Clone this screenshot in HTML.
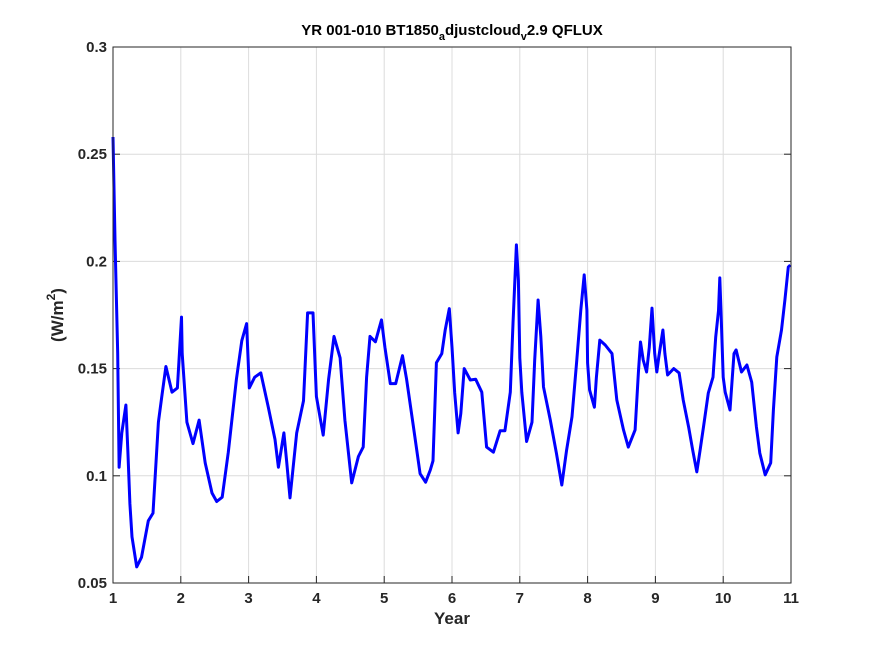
<!DOCTYPE html>
<html><head><meta charset="utf-8"><style>
body{margin:0;background:#fff;}
svg{display:block;font-family:"Liberation Sans",sans-serif;}
</style></head><body>
<svg id="chart" width="875" height="656" viewBox="0 0 875 656">
<rect width="875" height="656" fill="#fff"/>
<rect x="113" y="47" width="678" height="536" fill="#fff"/>
<g id="grid"></g>
<g id="ticks"></g>
<path id="series" fill="none" stroke="#0000ff" stroke-width="3" stroke-linejoin="round"/>
<rect x="113" y="47" width="678" height="536" fill="none" stroke="#262626" stroke-width="1"/>
<text x="452" y="35" text-anchor="middle" font-size="15" font-weight="bold" fill="#000">YR 001-010 BT1850<tspan font-size="11" dy="5">a</tspan><tspan dy="-5">djustcloud</tspan><tspan font-size="11" dy="5">v</tspan><tspan dy="-5">2.9 QFLUX</tspan></text>
<text x="452" y="624" text-anchor="middle" font-size="17" font-weight="bold" fill="#262626">Year</text>
<text transform="translate(63,315) rotate(-90)" text-anchor="middle" font-size="17" font-weight="bold" fill="#262626">(W/m<tspan font-size="12" dy="-8">2</tspan><tspan dy="8">)</tspan></text>
</svg>
<script>
const xTicks=[1,2,3,4,5,6,7,8,9,10,11];
const yTicks=[0.05,0.1,0.15,0.2,0.25,0.3];
const yTickLabels=["0.05","0.1","0.15","0.2","0.25","0.3"];
const years=[1.00,1.03,1.07,1.09,1.13,1.19,1.22,1.25,1.28,1.35,1.42,1.52,1.59,1.67,1.72,1.78,1.87,1.95,2.01,2.02,2.09,2.18,2.27,2.36,2.46,2.53,2.61,2.70,2.82,2.90,2.97,3.01,3.09,3.18,3.29,3.39,3.44,3.52,3.56,3.61,3.71,3.81,3.87,3.95,4.00,4.10,4.18,4.26,4.35,4.42,4.52,4.62,4.69,4.74,4.79,4.87,4.96,5.01,5.09,5.17,5.27,5.33,5.43,5.53,5.61,5.68,5.72,5.77,5.85,5.90,5.96,6.00,6.04,6.09,6.13,6.18,6.27,6.35,6.44,6.51,6.61,6.71,6.78,6.86,6.90,6.95,6.98,7.00,7.03,7.10,7.18,7.22,7.27,7.31,7.35,7.45,7.54,7.62,7.69,7.77,7.84,7.90,7.95,7.99,8.00,8.03,8.10,8.13,8.18,8.26,8.36,8.43,8.53,8.60,8.70,8.75,8.78,8.82,8.87,8.91,8.95,8.99,9.02,9.05,9.11,9.14,9.18,9.27,9.35,9.41,9.49,9.55,9.61,9.66,9.71,9.78,9.85,9.89,9.93,9.95,9.97,10.00,10.03,10.10,10.16,10.19,10.27,10.35,10.42,10.49,10.54,10.62,10.70,10.74,10.79,10.86,10.91,10.96,10.99];
const qflux=[0.258,0.21,0.157,0.104,0.12,0.133,0.111,0.087,0.0715,0.0575,0.062,0.079,0.0826,0.125,0.137,0.151,0.139,0.141,0.174,0.157,0.125,0.115,0.126,0.106,0.092,0.088,0.090,0.111,0.145,0.163,0.171,0.141,0.146,0.148,0.132,0.117,0.104,0.120,0.107,0.0897,0.120,0.135,0.176,0.176,0.137,0.119,0.145,0.165,0.155,0.126,0.0967,0.109,0.1134,0.146,0.165,0.1625,0.1727,0.160,0.143,0.143,0.156,0.145,0.123,0.101,0.097,0.1027,0.107,0.1527,0.157,0.168,0.178,0.160,0.1386,0.120,0.129,0.150,0.1447,0.145,0.139,0.1134,0.111,0.121,0.121,0.139,0.171,0.2077,0.191,0.155,0.139,0.116,0.125,0.154,0.182,0.165,0.1414,0.126,0.1106,0.0957,0.112,0.1275,0.154,0.1773,0.1937,0.1773,0.1526,0.14,0.132,0.146,0.1633,0.161,0.157,0.1354,0.1214,0.1134,0.1214,0.149,0.1624,0.154,0.1484,0.160,0.1782,0.157,0.1484,0.1554,0.168,0.157,0.147,0.150,0.148,0.1354,0.1228,0.112,0.1018,0.112,0.1228,0.1386,0.146,0.1647,0.177,0.1923,0.174,0.146,0.139,0.1307,0.157,0.1587,0.1484,0.1517,0.1437,0.1228,0.1106,0.1004,0.106,0.1307,0.1554,0.168,0.182,0.1974,0.1983];
const X0=113,X1=791,Y0=583,Y1=47;
function sx(v){return X0+(v-1)/(11-1)*(X1-X0);}
function sy(v){return Y0-(v-0.05)/(0.3-0.05)*(Y0-Y1);}
const NS="http://www.w3.org/2000/svg";
const grid=document.getElementById('grid'),ticks=document.getElementById('ticks');
function ln(p,x1,y1,x2,y2,c){const l=document.createElementNS(NS,'line');l.setAttribute('x1',x1);l.setAttribute('y1',y1);l.setAttribute('x2',x2);l.setAttribute('y2',y2);l.setAttribute('stroke',c);l.setAttribute('stroke-width',1);p.appendChild(l);return l;}
xTicks.forEach(t=>{const x=sx(t);
const g=ln(grid,x,Y1,x,Y0,'#dcdcdc');


const tk=ln(ticks,x,Y0,x,Y0-7,'#262626');


const tx=document.createElementNS(NS,'text');tx.setAttribute('x',x);tx.setAttribute('y',Y0+20);tx.setAttribute('text-anchor','middle');tx.setAttribute('font-size','15');tx.setAttribute('font-weight','bold');tx.setAttribute('fill','#262626');tx.textContent=t;


ticks.appendChild(tx);});
yTicks.forEach((t,i)=>{const y=sy(t);
const g=ln(grid,X0,y,X1,y,'#dcdcdc');


const tk=ln(ticks,X0,y,X0+7,y,'#262626');


const tk2=ln(ticks,X1,y,X1-7,y,'#262626');


const tx=document.createElementNS(NS,'text');tx.setAttribute('x',X0-6);tx.setAttribute('y',y+5);tx.setAttribute('text-anchor','end');tx.setAttribute('font-size','15');tx.setAttribute('font-weight','bold');tx.setAttribute('fill','#262626');tx.textContent=yTickLabels[i];


ticks.appendChild(tx);});
document.getElementById('series').setAttribute('d',years.map((yr,i)=>(i?'L':'M')+sx(yr).toFixed(1)+' '+sy(qflux[i]).toFixed(1)).join(' '));
</script>
</body></html>
